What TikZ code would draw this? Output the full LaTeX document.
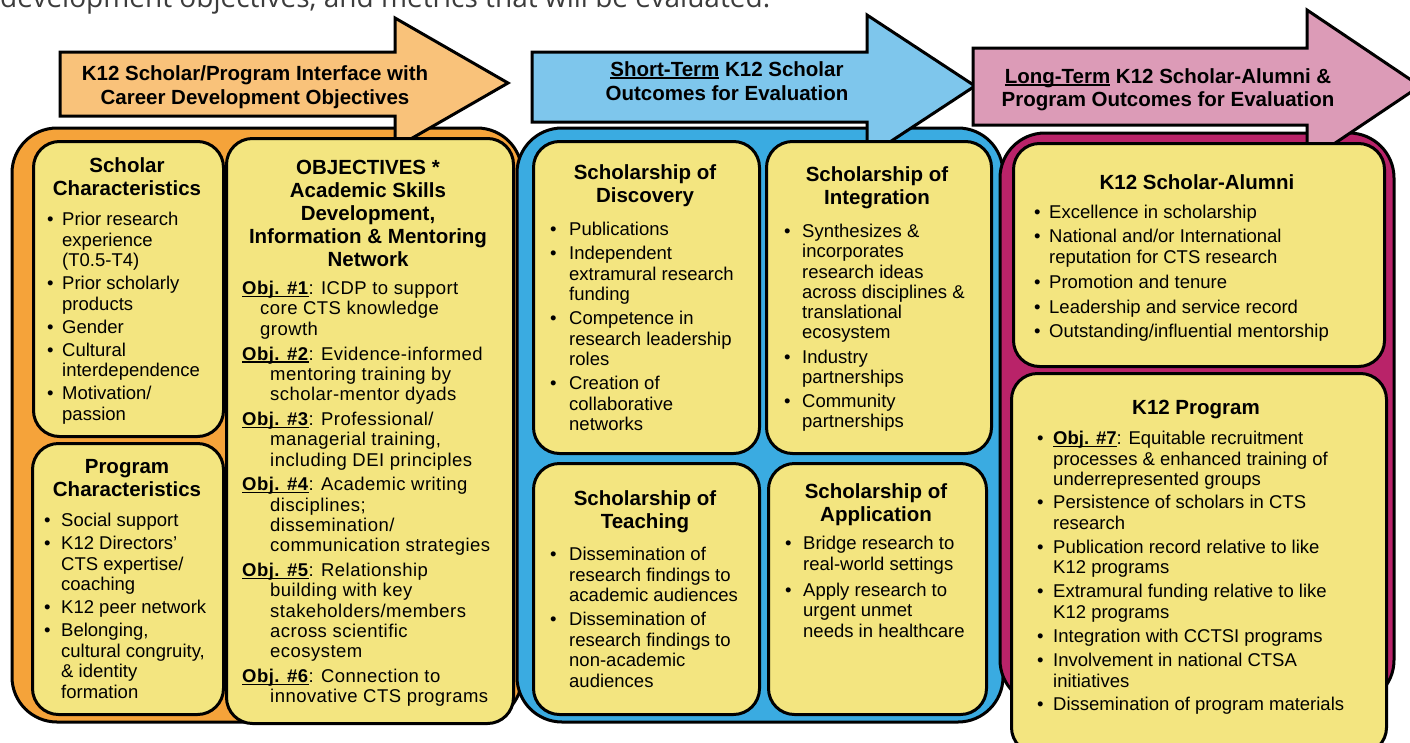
\documentclass[tikz,border=0pt]{standalone}
\usepackage{fontspec}
\setmainfont{Liberation Sans}
\newfontfamily\pagefont{Open Sans}

\definecolor{arroworange}{RGB}{249,194,122}
\definecolor{panelorange}{RGB}{245,163,58}
\definecolor{arrowblue}{RGB}{126,198,236}
\definecolor{panelblue}{RGB}{58,171,225}
\definecolor{arrowpink}{RGB}{220,155,183}
\definecolor{panelpink}{RGB}{185,35,105}
\definecolor{boxyellow}{RGB}{243,229,128}
\definecolor{pagegray}{RGB}{60,60,60}

\newlength\bulw
\newsavebox\ulbox
\newcommand{\uline}[1]{\sbox\ulbox{#1}\rlap{\rule[-2.6pt]{\wd\ulbox}{1.3pt}}\usebox\ulbox}
\newcommand{\bul}[1]{\makebox[\bulw][l]{\textbullet}#1}
\newcommand{\ind}[1]{\hspace*{\bulw}#1}
\newcommand{\objn}[1]{\uline{\textbf{Obj. \##1}}}

\begin{document}
\begin{tikzpicture}[x=1pt, y=-1pt,
    panel/.style={draw=black, line width=3pt, rounded corners=45pt},
    flow/.style={draw=black, line width=3pt, line join=miter},
    ybox/.style={draw=black, line width=3pt, fill=boxyellow, rounded corners=26pt,
      anchor=north west, inner sep=0pt},
    banner/.style={anchor=north, align=center, inner sep=0pt,
      font=\bfseries\fontsize{20.5}{24}\selectfont},
    title/.style={anchor=north, align=center, inner sep=0pt,
      font=\bfseries\fontsize{20.5}{23}\selectfont},
    items/.style={anchor=north west, align=left, inner sep=0pt,
      font=\fontsize{18.5}{20.5}\selectfont},
    bullet width/.style={execute at begin node={\setlength\bulw{#1}}}]
  \useasboundingbox (0,0) rectangle (1410,742);
  \node[anchor=base west, inner sep=0pt, text=pagegray,
    font=\pagefont\fontsize{28}{32}\selectfont] (pagetext) at (0,7)
    {development objectives, and metrics that will be evaluated.};

  \draw[panel, fill=panelorange] (12,128) rectangle (522,722);
  \draw[panel, fill=panelblue] (517,128) rectangle (1003,722);
  \draw[panel, fill=panelpink] (1000,133) rectangle (1394,705);

  \draw[flow, fill=arroworange] (60,52) -- (395,52) -- (395,18) -- (508,83)
    -- (395,148) -- (395,116) -- (60,116) -- cycle;
  \draw[flow, fill=arrowblue] (532,52) -- (867,52) -- (867,15) -- (975,86)
    -- (867,157) -- (867,122) -- (532,122) -- cycle;
  \draw[flow, fill=arrowpink] (973,48) -- (1307,48) -- (1307,10) -- (1420,86)
    -- (1307,162) -- (1307,125) -- (973,125) -- cycle;
  \node[banner] (interface) at (255,65)
    {K12 Scholar/Program Interface with\\Career Development Objectives};
  \node[banner] (shortterm) at (727,61)
    {\uline{Short-Term} K12 Scholar\\Outcomes for Evaluation};
  \node[banner, font=\bfseries\fontsize{20.5}{23}\selectfont] (longterm) at (1168,68)
    {\uline{Long-Term} K12 Scholar-Alumni \&\\Program Outcomes for Evaluation};

  \node[ybox, minimum width=190, minimum height=295] (scholar) at (32,140) {};
  \node[ybox, minimum width=191, minimum height=271] (program) at (31,442) {};
  \node[ybox, minimum width=287, minimum height=585] (objectives) at (225,137) {};
  \node[ybox, minimum width=226, minimum height=312] (discovery) at (532,140) {};
  \node[ybox, minimum width=225, minimum height=312] (integration) at (765,140) {};
  \node[ybox, minimum width=226, minimum height=251] (teaching) at (532,462) {};
  \node[ybox, minimum width=218, minimum height=251] (application) at (767,462) {};
  \node[ybox, minimum width=371, minimum height=223] (alumni) at (1012,142) {};
  \node[ybox, minimum width=375, minimum height=380] (k12prog) at (1010,372) {};

  \node[title] (scholartitle) at (127,157) {Scholar\\Characteristics};
  \node[items, bullet width=15pt] (scholarlist) at (47,212) {
    \bul{Prior research}\\\ind{experience}\\\ind{(T0.5-T4)}\\[2.5pt]
    \bul{Prior scholarly}\\\ind{products}\\[2.5pt]
    \bul{Gender}\\[2.5pt]
    \bul{Cultural}\\\ind{interdependence}\\[2.5pt]
    \bul{Motivation/}\\\ind{passion}};

  \node[title] (programtitle) at (127,459) {Program\\Characteristics};
  \node[items, bullet width=17pt] (programlist) at (44,513) {
    \bul{Social support}\\[2.5pt]
    \bul{K12 Directors'}\\\ind{CTS expertise/}\\\ind{coaching}\\[2.5pt]
    \bul{K12 peer network}\\[2.5pt]
    \bul{Belonging,}\\\ind{cultural congruity,}\\\ind{\& identity}\\\ind{formation}};

  \node[title] (objtitle) at (368,160)
    {OBJECTIVES *\\Academic Skills\\Development,\\Information \& Mentoring\\Network};
  \node[items, bullet width=28pt,
    font=\fontsize{18.5}{20.3}\selectfont\addfontfeature{LetterSpace=2.5}]
    (objlist) at (242,281) {
    \objn{1}: ICDP to support\\\hspace*{18pt}core CTS knowledge\\\hspace*{18pt}growth\\[4.5pt]
    \objn{2}: Evidence-informed\\\ind{mentoring training by}\\\ind{scholar-mentor dyads}\\[4.5pt]
    \objn{3}: Professional/\\\ind{managerial training,}\\\ind{including DEI principles}\\[4.5pt]
    \objn{4}: Academic writing\\\ind{disciplines;}\\\ind{dissemination/}\\\ind{communication strategies}\\[4.5pt]
    \objn{5}: Relationship\\\ind{building with key}\\\ind{stakeholders/members}\\\ind{across scientific}\\\ind{ecosystem}\\[4.5pt]
    \objn{6}: Connection to\\\ind{innovative CTS programs}};

  \node[title] (discoverytitle) at (645,164) {Scholarship of\\Discovery};
  \node[items, bullet width=19pt] (discoverylist) at (550,222) {
    \bul{Publications}\\[3.5pt]
    \bul{Independent}\\\ind{extramural research}\\\ind{funding}\\[3.5pt]
    \bul{Competence in}\\\ind{research leadership}\\\ind{roles}\\[3.5pt]
    \bul{Creation of}\\\ind{collaborative}\\\ind{networks}};

  \node[title] (integrationtitle) at (877,166) {Scholarship of\\Integration};
  \node[items, bullet width=18pt, font=\fontsize{18.5}{20.2}\selectfont]
    (integrationlist) at (784,224) {
    \bul{Synthesizes \&}\\\ind{incorporates}\\\ind{research ideas}\\\ind{across disciplines \&}\\\ind{translational}\\\ind{ecosystem}\\[4.5pt]
    \bul{Industry}\\\ind{partnerships}\\[3.5pt]
    \bul{Community}\\\ind{partnerships}};

  \node[title] (teachingtitle) at (645,490) {Scholarship of\\Teaching};
  \node[items, bullet width=19pt] (teachinglist) at (550,547) {
    \bul{Dissemination of}\\\ind{research findings to}\\\ind{academic audiences}\\[3.5pt]
    \bul{Dissemination of}\\\ind{research findings to}\\\ind{non-academic}\\\ind{audiences}};

  \node[title] (applicationtitle) at (876,483) {Scholarship of\\Application};
  \node[items, bullet width=18pt] (applicationlist) at (785,536) {
    \bul{Bridge research to}\\\ind{real-world settings}\\[5.5pt]
    \bul{Apply research to}\\\ind{urgent unmet}\\\ind{needs in healthcare}};

  \node[title] (alumnititle) at (1197,174) {K12 Scholar-Alumni};
  \node[items, bullet width=15pt] (alumnilist) at (1034,205) {
    \bul{Excellence in scholarship}\\[3.5pt]
    \bul{National and/or International}\\\ind{reputation for CTS research}\\[4.5pt]
    \bul{Promotion and tenure}\\[4.5pt]
    \bul{Leadership and service record}\\[4pt]
    \bul{Outstanding/influential mentorship}};

  \node[title] (k12progtitle) at (1196,400) {K12 Program};
  \node[items, bullet width=16pt] (k12proglist) at (1037,431) {
    \bul{\objn{7}: Equitable recruitment}\\\ind{processes \& enhanced training of}\\\ind{underrepresented groups}\\[2.5pt]
    \bul{Persistence of scholars in CTS}\\\ind{research}\\[3.5pt]
    \bul{Publication record relative to like}\\\ind{K12 programs}\\[3.5pt]
    \bul{Extramural funding relative to like}\\\ind{K12 programs}\\[3.5pt]
    \bul{Integration with CCTSI programs}\\[4pt]
    \bul{Involvement in national CTSA}\\\ind{initiatives}\\[2.5pt]
    \bul{Dissemination of program materials}};
\end{tikzpicture}
\end{document}
